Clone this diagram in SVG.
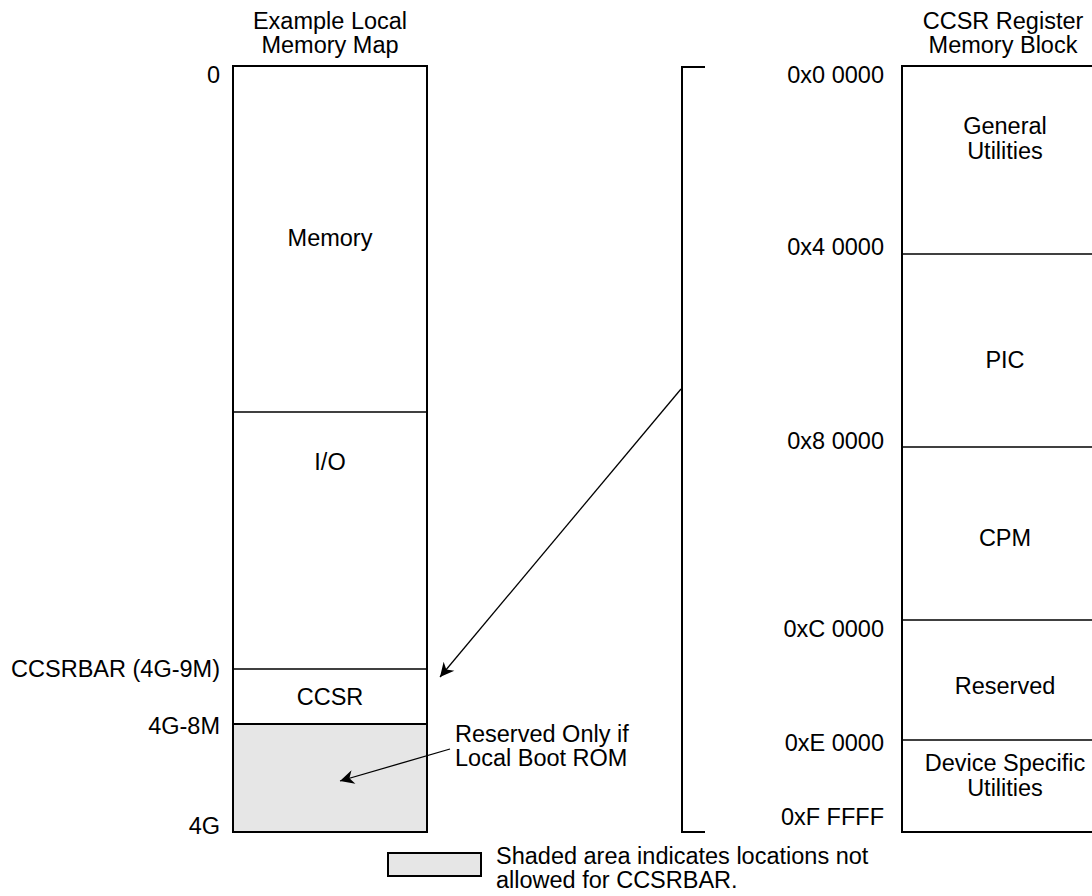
<svg xmlns="http://www.w3.org/2000/svg" width="1092" height="896" viewBox="0 0 1092 896">
<style>
text{font-family:"Liberation Sans",Arial,sans-serif;font-size:23.5px;fill:#000}
.c{text-anchor:middle}
.r{text-anchor:end}
.b{fill:none;stroke:#000;stroke-width:2}
.l{stroke:#000;stroke-width:1.3;fill:none}
.sh{fill:#e6e6e6;stroke:#000;stroke-width:2}
</style>
<defs>
<marker id="ah" viewBox="0 0 10 10" refX="10" refY="5" markerWidth="18" markerHeight="14" markerUnits="userSpaceOnUse" orient="auto">
<path d="M0,0 L10,5 L0,10 L3,5 Z" fill="#000"/>
</marker>
</defs>
<rect width="1092" height="896" fill="#fff"/>
<g id="local-map">
<text class="c" x="330" y="29">Example Local</text>
<text class="c" x="330" y="53">Memory Map</text>
<rect class="sh" x="233" y="724" width="194" height="108"/>
<rect class="b" x="233" y="66" width="194" height="766"/>
<line class="l" x1="233" y1="412" x2="427" y2="412"/>
<line class="l" x1="233" y1="669" x2="427" y2="669"/>
<line class="l" x1="233" y1="724" x2="427" y2="724"/>
<text class="c" x="330" y="246">Memory</text>
<text class="c" x="330" y="470">I/O</text>
<text class="c" x="330" y="705">CCSR</text>
<text class="r" x="220" y="83">0</text>
<text class="r" x="220" y="677">CCSRBAR (4G-9M)</text>
<text class="r" x="220" y="734">4G-8M</text>
<text class="r" x="220" y="834">4G</text>
<text x="455" y="742">Reserved Only if</text>
<text x="455" y="766">Local Boot ROM</text>
</g>
<g id="bracket">
<path class="b" d="M705,67 H682 V832 H705"/>
</g>
<g id="ccsr-block">
<text class="c" x="1003" y="29">CCSR Register</text>
<text class="c" x="1003" y="53">Memory Block</text>
<path class="b" d="M1100,66 H902 V832 H1100"/>
<line class="l" x1="902" y1="254" x2="1092" y2="254"/>
<line class="l" x1="902" y1="447" x2="1092" y2="447"/>
<line class="l" x1="902" y1="620" x2="1092" y2="620"/>
<line class="l" x1="902" y1="740" x2="1092" y2="740"/>
<text class="c" x="1005" y="134">General</text>
<text class="c" x="1005" y="159">Utilities</text>
<text class="c" x="1005" y="368">PIC</text>
<text class="c" x="1005" y="546">CPM</text>
<text class="c" x="1005" y="694">Reserved</text>
<text class="c" x="1005" y="771">Device Specific</text>
<text class="c" x="1005" y="796">Utilities</text>
<text class="r" x="884" y="83">0x0 0000</text>
<text class="r" x="884" y="255">0x4 0000</text>
<text class="r" x="884" y="449">0x8 0000</text>
<text class="r" x="884" y="637">0xC 0000</text>
<text class="r" x="884" y="751">0xE 0000</text>
<text class="r" x="884" y="825">0xF FFFF</text>
</g>
<g id="legend">
<rect class="sh" x="388" y="853" width="93" height="23"/>
<text x="496" y="864">Shaded area indicates locations not</text>
<text x="496" y="888">allowed for CCSRBAR.</text>
</g>
<g id="connectors">
<line class="l" x1="681" y1="389" x2="440" y2="677" marker-end="url(#ah)"/>
<line class="l" x1="450" y1="749" x2="340" y2="781" marker-end="url(#ah)"/>
</g>
</svg>
